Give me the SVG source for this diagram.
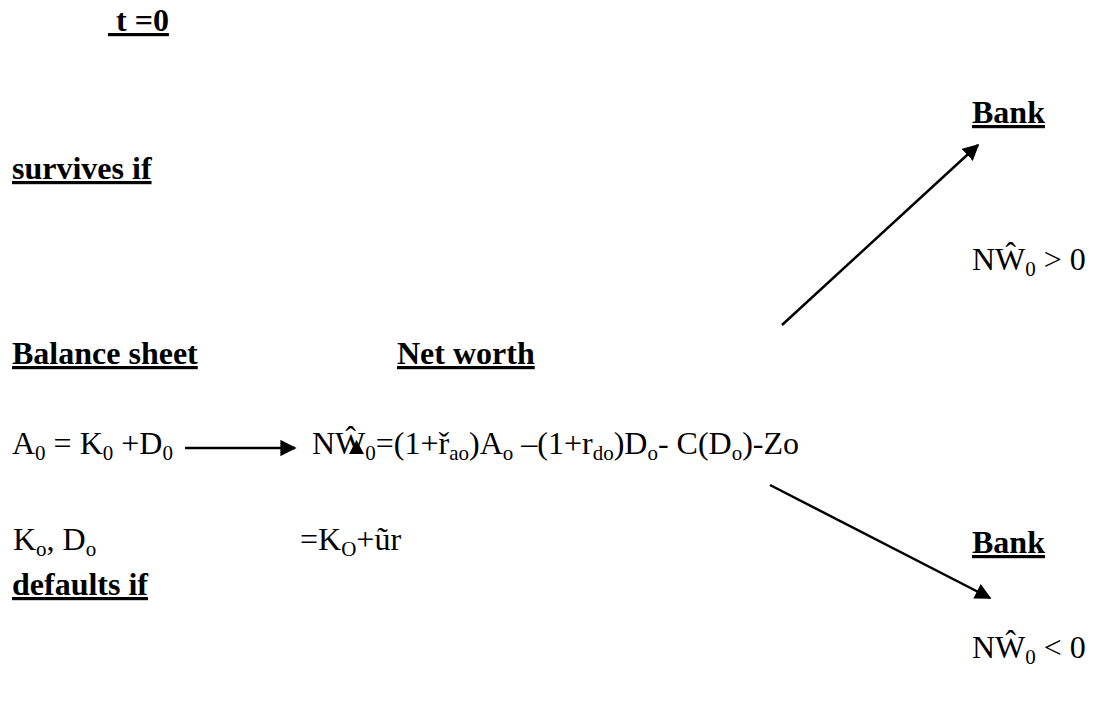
<svg xmlns="http://www.w3.org/2000/svg" width="1108" height="705" viewBox="0 0 1108 705">
<style>
.b{font-family:"Liberation Serif","Times New Roman",serif;font-weight:bold;font-size:32px;fill:#000;text-decoration:underline}
.r{font-family:"Liberation Serif","Times New Roman",serif;font-size:32px;fill:#000}
.s{font-size:21px}
.c{stroke:#000;stroke-width:2.5;fill:none}
</style>
<defs>
<marker id="ah" viewBox="0 0 10 10" refX="9" refY="5" markerWidth="6.5" markerHeight="6.5" markerUnits="strokeWidth" orient="auto">
<path d="M0,0 L10,5 L0,10 z" fill="#000"/>
</marker>
</defs>
<rect width="1108" height="705" fill="#fff"/>
<g id="title"><text class="b" x="108" y="31" xml:space="preserve"> t =0</text></g>
<g id="bank-up"><text class="b" x="972" y="123">Bank</text></g>
<g id="survives"><text class="b" x="12" y="179">survives if</text></g>
<g id="nw-pos"><text class="r" x="972" y="270">NŴ<tspan class="s" dy="6">0</tspan><tspan dy="-6"> &gt; 0</tspan></text></g>
<g id="balance"><text class="b" x="12" y="364">Balance sheet</text></g>
<g id="networth"><text class="b" x="397" y="364">Net worth</text></g>
<g id="a0"><text class="r" x="12" y="454">A<tspan class="s" dy="6">0</tspan><tspan dy="-6"> = K</tspan><tspan class="s" dy="6">0</tspan><tspan dy="-6"> +D</tspan><tspan class="s" dy="6">0</tspan></text></g>
<g id="formula"><text class="r" x="312" y="454">NŴ<tspan class="s" dy="6">0</tspan><tspan dy="-6">=(1+ř</tspan><tspan class="s" dy="6">ao</tspan><tspan dy="-6">)A</tspan><tspan class="s" dy="6">o</tspan><tspan dy="-6"> –(1+r</tspan><tspan class="s" dy="6">do</tspan><tspan dy="-6">)D</tspan><tspan class="s" dy="6">o</tspan><tspan dy="-6">- C(D</tspan><tspan class="s" dy="6">o</tspan><tspan dy="-6">)-Zo</tspan></text>
<path d="M349,454 L356.5,440 L364,454 z" fill="#000"/></g>
<g id="kd"><text class="r" x="13" y="550">K<tspan class="s" dy="6">o</tspan><tspan dy="-6">, D</tspan><tspan class="s" dy="6">o</tspan></text></g>
<g id="ku"><text class="r" x="300" y="550">=K<tspan class="s" dy="6">O</tspan><tspan dy="-6">+ũr</tspan></text></g>
<g id="bank-down"><text class="b" x="972" y="553">Bank</text></g>
<g id="defaults"><text class="b" x="12" y="595">defaults if</text></g>
<g id="nw-neg"><text class="r" x="972" y="658">NŴ<tspan class="s" dy="6">0</tspan><tspan dy="-6"> &lt; 0</tspan></text></g>
<g id="connectors">
<line class="c" x1="185" y1="448" x2="295" y2="448" marker-end="url(#ah)"/>
<line class="c" x1="782" y1="325" x2="978" y2="145" marker-end="url(#ah)"/>
<line class="c" x1="770" y1="485" x2="990" y2="598" marker-end="url(#ah)"/>
</g>
</svg>
